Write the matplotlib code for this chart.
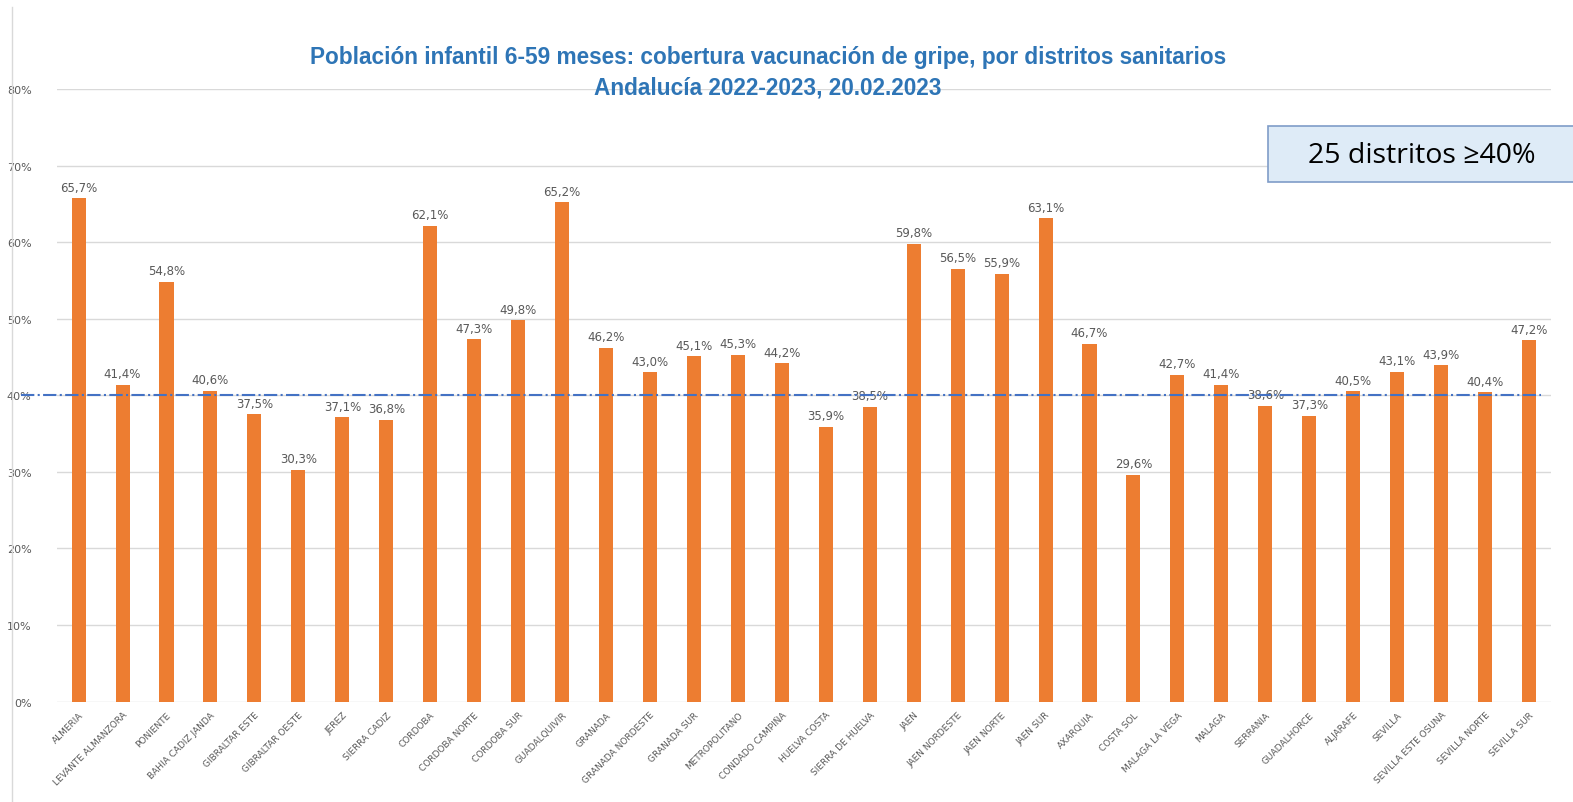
import matplotlib.pyplot as plt
import matplotlib.transforms as mtransforms
from matplotlib.patches import Rectangle
from matplotlib.ticker import FuncFormatter

distritos = ['ALMERIA', 'LEVANTE ALMANZORA', 'PONIENTE', 'BAHIA CADIZ JANDA',
             'GIBRALTAR ESTE', 'GIBRALTAR OESTE', 'JEREZ', 'SIERRA CADIZ',
             'CORDOBA', 'CORDOBA NORTE', 'CORDOBA SUR', 'GUADALQUIVIR',
             'GRANADA', 'GRANADA NORDESTE', 'GRANADA SUR', 'METROPOLITANO',
             'CONDADO CAMPIÑA', 'HUELVA COSTA', 'SIERRA DE HUELVA', 'JAEN',
             'JAEN NORDESTE', 'JAEN NORTE', 'JAEN SUR', 'AXARQUIA', 'COSTA SOL',
             'MALAGA LA VEGA', 'MALAGA', 'SERRANIA', 'GUADALHORCE', 'ALJARAFE',
             'SEVILLA', 'SEVILLA ESTE OSUNA', 'SEVILLA NORTE', 'SEVILLA SUR']
cobertura = [65.7, 41.4, 54.8, 40.6, 37.5, 30.3, 37.1, 36.8, 62.1, 47.3, 49.8,
             65.2, 46.2, 43.0, 45.1, 45.3, 44.2, 35.9, 38.5, 59.8, 56.5, 55.9,
             63.1, 46.7, 29.6, 42.7, 41.4, 38.6, 37.3, 40.5, 43.1, 43.9, 40.4,
             47.2]
umbral = 40
n_sobre = 25

gris = '#595959'
fig = plt.figure(figsize=(15.73, 8.03), dpi=100)
ax = fig.add_axes([0.036, 0.125, 0.950, 0.763])

x = range(len(distritos))
bars = ax.bar(x, cobertura, width=0.32, color='#ED7D31', zorder=3)
for xi, v in zip(x, cobertura):
    ax.text(xi, v + 0.6, f'{v:.1f}%'.replace('.', ','), ha='center', va='bottom',
            fontsize=8.5, color=gris, zorder=4)

ax.set_xlim(-0.5, len(distritos) - 0.5)
ax.set_ylim(0, 80)
ax.set_yticks(range(0, 81, 10))
ax.yaxis.set_major_formatter(FuncFormatter(lambda v, p: f'{v:.0f}%'))
ax.set_xticks(list(x))
ax.set_xticklabels(distritos, rotation=45, ha='right', rotation_mode='anchor',
                   fontsize=6.5, color=gris)
ax.tick_params(axis='y', labelsize=8, colors=gris, length=0, pad=18)
ax.tick_params(axis='x', length=0, pad=6)
ax.grid(axis='y', color='#D9D9D9', linewidth=1, zorder=0)
for s in ax.spines.values():
    s.set_visible(False)

# linea 40%
trans = mtransforms.blended_transform_factory(ax.transAxes, ax.transData)
ax.plot([-0.024, 0.993], [umbral, umbral], transform=trans, color='#4472C4',
        linestyle='-.', linewidth=1.5, clip_on=False, zorder=5)

# marco izquierdo
fig.add_artist(plt.Line2D([0.0076, 0.0076], [0.0, 0.99], color='#D9D9D9', linewidth=1))

fig.text(0.488, 0.928, 'Población infantil 6-59 meses: cobertura vacunación de gripe, por distritos sanitarios',
         ha='center', va='center', fontsize=16.3, fontweight='bold', color='#2E75B6',
         family='Liberation Sans')
fig.text(0.488, 0.890, 'Andalucía 2022-2023, 20.02.2023',
         ha='center', va='center', fontsize=16.3, fontweight='bold', color='#2E75B6',
         family='Liberation Sans')

# recuadro
fig.add_artist(Rectangle((0.806, 0.772), 0.195, 0.0697, transform=fig.transFigure,
                         facecolor='#DEEBF7', edgecolor='#7F9CC8', linewidth=1.2))
fig.text(0.904, 0.806, f'{n_sobre} distritos ≥{umbral}%', ha='center', va='center',
         fontsize=20.5, family='Open Sans', color='black')

fig.savefig('out.png', dpi=100)
